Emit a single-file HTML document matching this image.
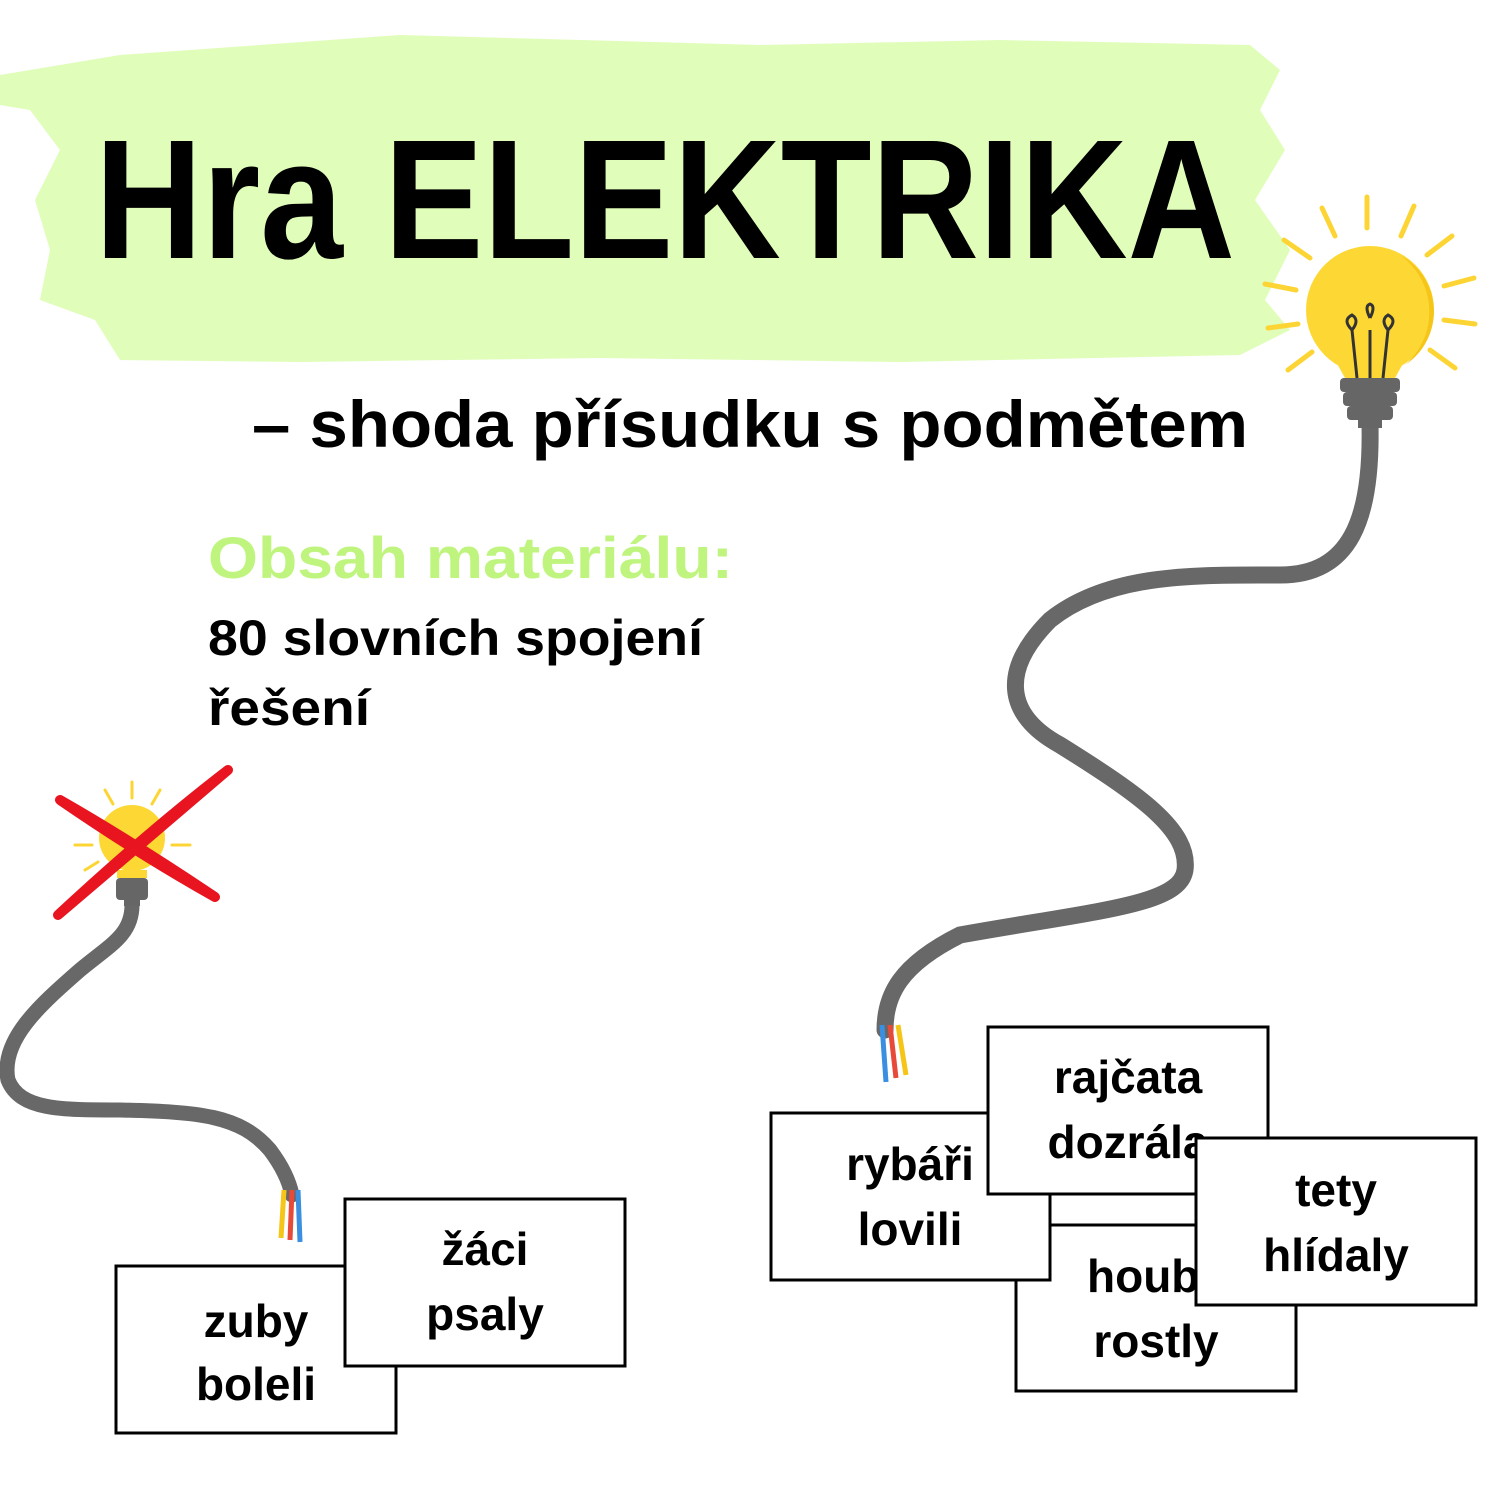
<!DOCTYPE html>
<html><head><meta charset="utf-8"><style>html,body{margin:0;padding:0;background:#fff}svg{display:block}</style></head>
<body>
<svg width="1500" height="1500" viewBox="0 0 1500 1500" xmlns="http://www.w3.org/2000/svg" font-family="'Liberation Sans', sans-serif" font-weight="bold">
<rect width="1500" height="1500" fill="#fff"/>
<!-- brush background -->
<path d="M0,75 L120,55 L400,35 L760,45 L1000,40 L1250,45 L1280,70 L1260,110 L1285,150 L1255,200 L1290,250 L1265,300 L1290,330 L1240,355 L900,362 L600,358 L300,362 L120,360 L95,320 L40,300 L50,250 L35,200 L60,150 L30,110 L0,105 Z" fill="#e0fdb9"/>
<!-- title -->
<text x="95" y="258" font-size="170" textLength="1140" lengthAdjust="spacingAndGlyphs" fill="#000">Hra ELEKTRIKA</text>
<text x="252" y="447" font-size="66" textLength="996" lengthAdjust="spacingAndGlyphs" fill="#000">– shoda přísudku s podmětem</text>
<text x="208" y="578" font-size="58" textLength="525" lengthAdjust="spacingAndGlyphs" fill="#bff57f">Obsah materiálu:</text>
<text x="208" y="655" font-size="50" textLength="495" lengthAdjust="spacingAndGlyphs" fill="#000">80 slovních spojení</text>
<text x="208" y="725" font-size="50" textLength="162" lengthAdjust="spacingAndGlyphs" fill="#000">řešení</text>

<!-- right cable -->
<path d="M1370,425 C1372,520 1350,575 1280,575 C1200,575 1110,572 1050,620 C1000,670 1005,715 1060,745 C1140,795 1190,830 1185,870 C1180,905 1100,910 960,935 C900,965 885,995 885,1030" fill="none" stroke="#686868" stroke-width="17" stroke-linecap="round"/>
<path d="M882,1025 L886,1082" stroke="#3a8fe0" stroke-width="5" fill="none"/>
<path d="M890,1025 L896,1078" stroke="#e84a3a" stroke-width="5" fill="none"/>
<path d="M898,1025 L906,1075" stroke="#f5c518" stroke-width="5" fill="none"/>
<!-- right bulb -->
<g stroke="#fcd535" stroke-width="5" stroke-linecap="round">
<line x1="1367" y1="197" x2="1367" y2="228"/>
<line x1="1322" y1="208" x2="1335" y2="236"/>
<line x1="1414" y1="206" x2="1401" y2="236"/>
<line x1="1284" y1="240" x2="1310" y2="258"/>
<line x1="1452" y1="236" x2="1427" y2="255"/>
<line x1="1265" y1="284" x2="1296" y2="290"/>
<line x1="1474" y1="278" x2="1444" y2="286"/>
<line x1="1268" y1="328" x2="1298" y2="324"/>
<line x1="1475" y1="324" x2="1444" y2="320"/>
<line x1="1288" y1="370" x2="1312" y2="352"/>
<line x1="1455" y1="368" x2="1430" y2="350"/>
</g>
<circle cx="1370" cy="310" r="64" fill="#fdd835"/>
<path d="M1400,255 A64,64 0 0 1 1405,365 A70,70 0 0 0 1400,255Z" fill="#f5c518"/>
<path d="M1335,360 L1405,360 L1395,378 L1345,378Z" fill="#fdd835"/>
<path d="M1357,378 L1352,330 M1383,378 L1388,330 M1370,378 L1370,330" stroke="#333" stroke-width="3" fill="none"/>
<path d="M1352,330 q-10,-10 0,-15 q8,5 0,15 M1370,318 q-6,-12 0,-14 q6,2 0,14 M1388,330 q10,-10 0,-15 q-8,5 0,15" stroke="#333" stroke-width="3" fill="none"/>
<rect x="1340" y="378" width="60" height="14" rx="4" fill="#666"/>
<rect x="1343" y="392" width="54" height="14" rx="4" fill="#666"/>
<rect x="1347" y="406" width="46" height="14" rx="4" fill="#666"/>
<rect x="1358" y="420" width="24" height="8" fill="#666"/>

<!-- left cable -->
<path d="M132,905 C132,935 110,945 80,970 C40,1005 0,1040 8,1080 C20,1110 60,1110 120,1110 C200,1112 240,1115 270,1150 C285,1170 290,1185 292,1195" fill="none" stroke="#686868" stroke-width="15" stroke-linecap="round"/>
<path d="M284,1190 L281,1238" stroke="#f5c518" stroke-width="5"/>
<path d="M292,1190 L290,1240" stroke="#e84a3a" stroke-width="5"/>
<path d="M298,1190 L300,1242" stroke="#3a8fe0" stroke-width="5"/>
<!-- left bulb -->
<g stroke="#fcd535" stroke-width="3" stroke-linecap="round">
<line x1="132" y1="782" x2="132" y2="798"/><line x1="105" y1="790" x2="113" y2="804"/><line x1="160" y1="790" x2="152" y2="804"/>
<line x1="85" y1="812" x2="98" y2="820"/><line x1="180" y1="812" x2="166" y2="820"/>
<line x1="75" y1="845" x2="92" y2="845"/><line x1="190" y1="845" x2="172" y2="845"/>
<line x1="85" y1="870" x2="98" y2="862"/><line x1="180" y1="870" x2="166" y2="862"/>
</g>
<circle cx="132" cy="838" r="33" fill="#fdd835"/>
<rect x="117" y="870" width="30" height="8" fill="#fdd835"/>
<rect x="116" y="878" width="32" height="22" rx="4" fill="#666"/>
<rect x="124" y="898" width="16" height="8" fill="#666"/>
<!-- red X -->
<path d="M60,800 Q130,840 215,897 Q140,855 60,800Z" fill="#e8141f" stroke="#e8141f" stroke-width="10" stroke-linejoin="round"/>
<path d="M228,770 Q150,830 58,915 Q140,845 228,770Z" fill="#e8141f" stroke="#e8141f" stroke-width="10" stroke-linejoin="round"/>

<!-- cards -->
<g fill="#fff" stroke="#000" stroke-width="3">
<rect x="116" y="1266" width="280" height="167"/>
</g>
<g font-size="46" text-anchor="middle" fill="#000">
<text x="256" y="1337">zuby</text><text x="256" y="1400">boleli</text>
</g>
<rect x="345" y="1199" width="280" height="167" fill="#fff" stroke="#000" stroke-width="3"/>
<g font-size="46" text-anchor="middle" fill="#000"><text x="485" y="1265">žáci</text><text x="485" y="1330">psaly</text></g>

<rect x="1016" y="1225" width="280" height="166" fill="#fff" stroke="#000" stroke-width="3"/>
<g font-size="46" text-anchor="middle" fill="#000"><text x="1156" y="1292">houby</text><text x="1156" y="1357">rostly</text></g>
<rect x="771" y="1113" width="279" height="167" fill="#fff" stroke="#000" stroke-width="3"/>
<g font-size="46" text-anchor="middle" fill="#000"><text x="910" y="1180">rybáři</text><text x="910" y="1245">lovili</text></g>
<rect x="988" y="1027" width="280" height="167" fill="#fff" stroke="#000" stroke-width="3"/>
<g font-size="46" text-anchor="middle" fill="#000"><text x="1128" y="1093">rajčata</text><text x="1128" y="1158">dozrála</text></g>
<rect x="1196" y="1138" width="280" height="167" fill="#fff" stroke="#000" stroke-width="3"/>
<g font-size="46" text-anchor="middle" fill="#000"><text x="1336" y="1206">tety</text><text x="1336" y="1271">hlídaly</text></g>
</svg>
</body></html>
